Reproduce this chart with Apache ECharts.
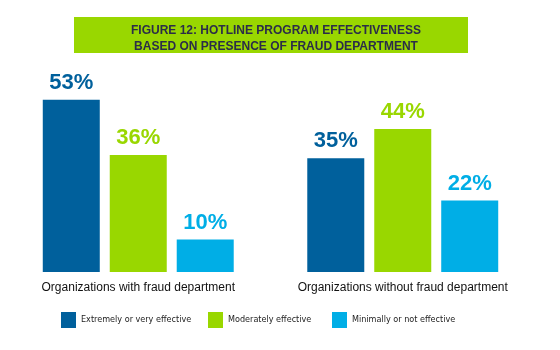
<!DOCTYPE html>
<html><head><meta charset="utf-8">
<script src="https://cdn.jsdelivr.net/npm/echarts@6/dist/echarts.min.js"></script>
<style>html,body{margin:0;padding:0;background:#fff}#c{width:560px;height:350px}</style>
</head><body><div id="c"></div>
<script>
const categories = ['Organizations with fraud department', 'Organizations without fraud department'];
const seriesNames = ['Extremely or very effective', 'Moderately effective', 'Minimally or not effective'];
const extremely = [53, 35];
const moderately = [36, 44];
const minimally = [10, 22];
const colors = ['#00609c', '#99d700', '#00aee6'];
const values = [extremely, moderately, minimally];
const titleLines = ['FIGURE 12: HOTLINE PROGRAM EFFECTIVENESS', 'BASED ON PRESENCE OF FRAUD DEPARTMENT'];

const chart = echarts.init(document.getElementById('c'), null, {renderer: 'canvas'});
const legendLefts = [56, 203, 327];
chart.setOption({
  animation: false,
  backgroundColor: '#fff',
  graphic: [{type: 'rect', left: 74, top: 17, shape: {width: 394, height: 36}, style: {fill: '#99d700'}, z: -1}],
  title: {
    text: titleLines.join('\n'),
    left: 271, top: 18, textAlign: 'center',
    textStyle: {fontFamily: 'Liberation Sans', fontWeight: 'bold', fontSize: 12, lineHeight: 16, color: '#2b2d48', align: 'center'}
  },
  legend: seriesNames.map((n, i) => ({
    data: [n], left: legendLefts[i], top: 307, itemWidth: 15, itemHeight: 16, itemGap: 0,
    icon: 'rect', textStyle: {fontFamily: '"DejaVu Sans Condensed", "Liberation Sans"', fontSize: 9, color: '#222'}
  })),
  grid: {left: 6, right: 25, top: 77, bottom: 78, containLabel: false},
  xAxis: {
    type: 'category', data: categories,
    axisLine: {show: false}, axisTick: {show: false},
    axisLabel: {interval: 0, margin: 10, fontFamily: 'Liberation Sans', fontSize: 12, color: '#111'}
  },
  yAxis: {type: 'value', min: 0, max: 60, show: false, splitLine: {show: false}},
  series: seriesNames.map((n, i) => ({
    name: n, type: 'bar', data: values[i], barWidth: 57, barGap: '17.5%',
    itemStyle: {color: colors[i]},
    label: {show: true, position: 'top', distance: 6, formatter: '{c}%', color: colors[i],
      fontFamily: 'Liberation Sans', fontWeight: 'bold', fontSize: 22}
  }))
});
</script></body></html>
